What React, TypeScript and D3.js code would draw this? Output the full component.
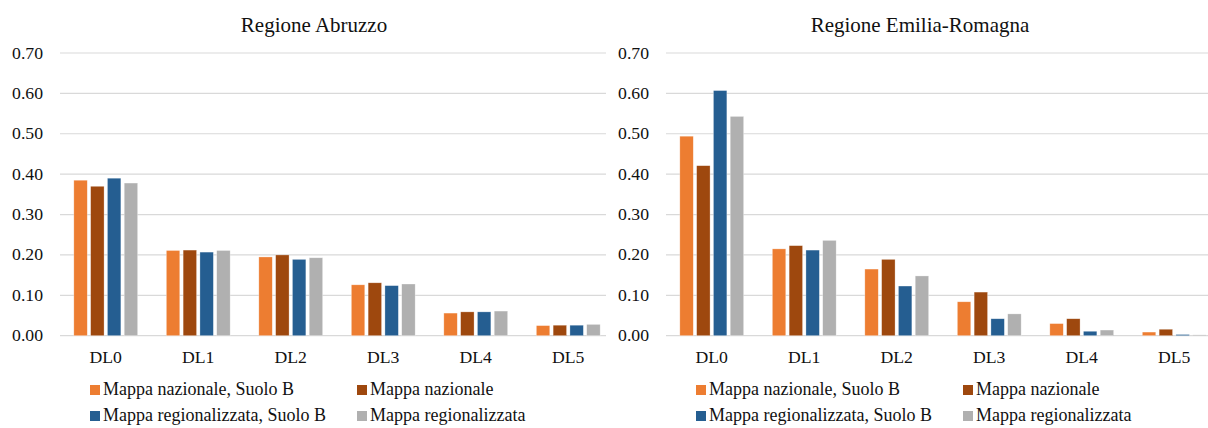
import React, { useEffect, useRef } from 'react';
import * as d3 from 'd3';

const categories = ['DL0', 'DL1', 'DL2', 'DL3', 'DL4', 'DL5'];
const seriesNames = [
  'Mappa nazionale, Suolo B',
  'Mappa nazionale',
  'Mappa regionalizzata, Suolo B',
  'Mappa regionalizzata',
];
const seriesColors = ['#ED7D31', '#9E480E', '#255E91', '#B0B0B0'];
const yTicks = [0, 0.1, 0.2, 0.3, 0.4, 0.5, 0.6, 0.7];

// values per series, DL0..DL5
const abruzzo = [
  [0.385, 0.211, 0.195, 0.126, 0.056, 0.025],
  [0.370, 0.212, 0.200, 0.131, 0.059, 0.026],
  [0.390, 0.207, 0.189, 0.124, 0.059, 0.026],
  [0.378, 0.211, 0.193, 0.128, 0.061, 0.028],
];
const emiliaRomagna = [
  [0.494, 0.215, 0.165, 0.084, 0.030, 0.009],
  [0.421, 0.223, 0.189, 0.108, 0.042, 0.016],
  [0.607, 0.212, 0.123, 0.042, 0.011, 0.003],
  [0.543, 0.236, 0.148, 0.054, 0.014, 0.002],
];

const panels = [
  { title: 'Regione Abruzzo', values: abruzzo, x0: 0 },
  { title: 'Regione Emilia-Romagna', values: emiliaRomagna, x0: 606 },
];

const WIDTH = 1208;
const HEIGHT = 428;
const FONT = '"Liberation Serif", "Times New Roman", serif';

const App: React.FC = () => {
  const svgRef = useRef<SVGSVGElement>(null);

  useEffect(() => {
    if (!svgRef.current) return;
    const svg = d3.select(svgRef.current);
    svg.selectAll('*').remove();

    const yScale = d3.scaleLinear().domain([0, 0.7]).range([335.7, 53]);

    panels.forEach(panel => {
      const g = svg.append('g').attr('transform', `translate(${panel.x0},0)`);

      const xScale = d3.scaleBand<string>()
        .domain(categories)
        .range([59.5, 614.5])
        .paddingInner(0.31)
        .paddingOuter(0.155);

      const xInner = d3.scaleBand<number>()
        .domain(d3.range(seriesNames.length))
        .range([0, xScale.bandwidth()])
        .paddingInner(0.2);

      // title
      g.append('text')
        .attr('x', 314)
        .attr('y', 32)
        .attr('text-anchor', 'middle')
        .style('font-family', FONT)
        .style('font-size', '21px')
        .style('fill', '#111')
        .text(panel.title);

      // grid lines
      g.append('g')
        .selectAll('line')
        .data(yTicks)
        .enter().append('line')
        .attr('x1', 60)
        .attr('x2', Math.min(606, WIDTH - panel.x0))
        .attr('y1', d => yScale(d))
        .attr('y2', d => yScale(d))
        .attr('stroke', '#D9D9D9')
        .attr('stroke-width', 1.2);

      // y labels
      g.append('g')
        .selectAll('text')
        .data(yTicks)
        .enter().append('text')
        .attr('x', 43)
        .attr('y', d => yScale(d) + 5.5)
        .attr('text-anchor', 'end')
        .style('font-family', FONT)
        .style('font-size', '17.7px')
        .style('fill', '#111')
        .text(d => d3.format('.2f')(d));

      // bars
      panel.values.forEach((vals, si) => {
        g.append('g')
          .selectAll('rect')
          .data(vals)
          .enter().append('rect')
          .attr('x', (_, i) => (xScale(categories[i]) as number) + (xInner(si) as number))
          .attr('y', d => yScale(d))
          .attr('width', xInner.bandwidth())
          .attr('height', d => yScale(0) - yScale(d))
          .attr('fill', seriesColors[si])
          .attr('stroke', '#fff')
          .attr('stroke-opacity', 0.5)
          .attr('stroke-width', 0.6);
      });

      // category labels
      g.append('g')
        .selectAll('text')
        .data(categories)
        .enter().append('text')
        .attr('x', d => (xScale(d) as number) + xScale.bandwidth() / 2)
        .attr('y', 362.5)
        .attr('text-anchor', 'middle')
        .style('font-family', FONT)
        .style('font-size', '17.7px')
        .style('fill', '#111')
        .text(d => d);

      // legend
      const legendCols = [90, 357];
      const legendRows = [395, 421];
      seriesNames.forEach((name, i) => {
        const lx = legendCols[i % 2];
        const ly = legendRows[Math.floor(i / 2)];
        g.append('rect')
          .attr('x', lx)
          .attr('y', ly - 10)
          .attr('width', 10)
          .attr('height', 10)
          .attr('fill', seriesColors[i]);
        g.append('text')
          .attr('x', lx + 13)
          .attr('y', ly)
          .style('font-family', FONT)
          .style('font-size', '18px')
          .style('fill', '#111')
          .text(name);
      });
    });
  }, []);

  return (
    <svg
      ref={svgRef}
      width={WIDTH}
      height={HEIGHT}
      style={{ position: 'absolute', left: 0, top: 0, background: '#fff' }}
    />
  );
};

export default App;
